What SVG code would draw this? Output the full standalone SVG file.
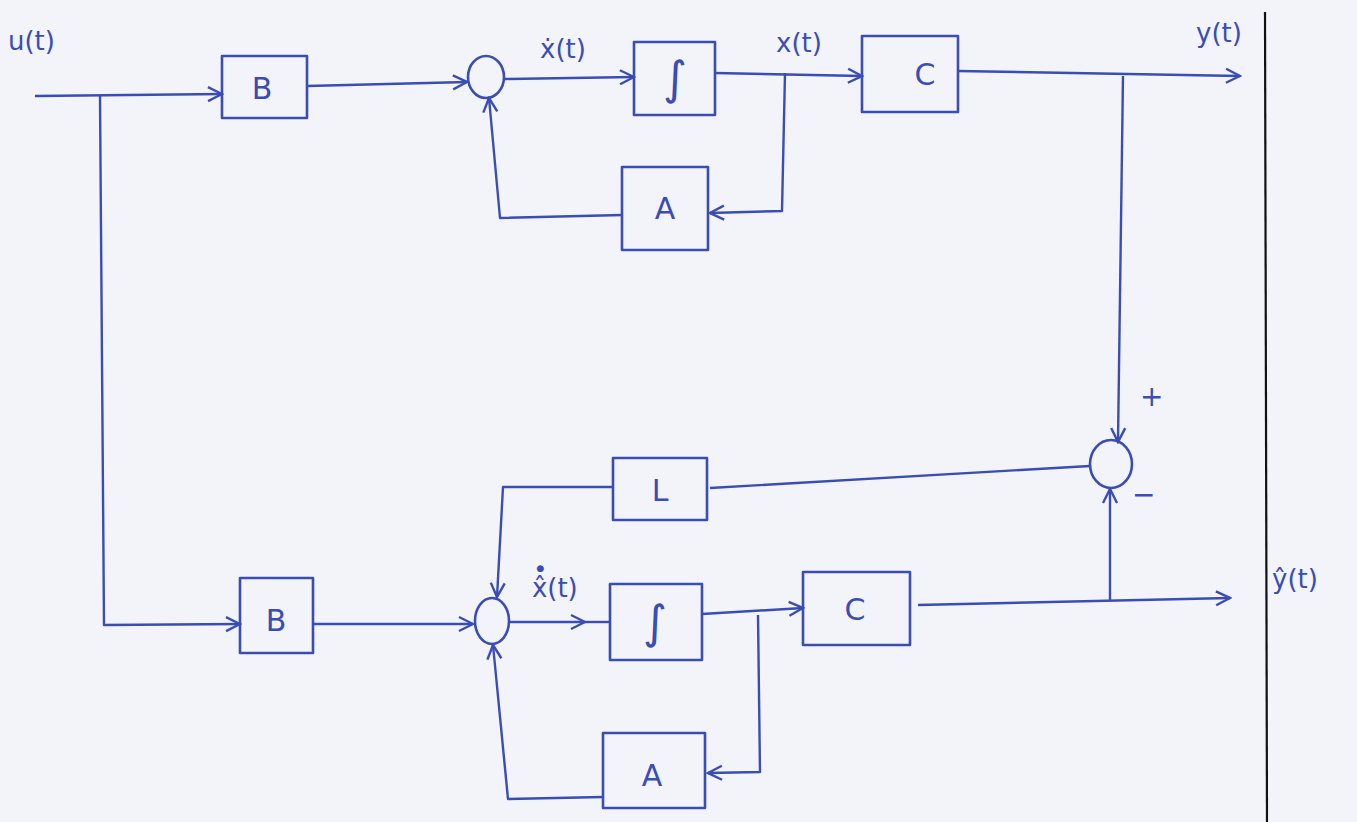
<svg xmlns="http://www.w3.org/2000/svg" width="1357" height="822" viewBox="0 0 1357 822">
<style>
.bg{fill:#f3f3fa}
.box{fill:none;stroke:#3a4db3;stroke-width:2.6;stroke-linejoin:round}
.sum{fill:none;stroke:#3a4db3;stroke-width:2.6}
.w{fill:none;stroke:#3a4db3;stroke-width:2.4;stroke-linejoin:round}
.t{font-family:"DejaVu Sans","Liberation Sans",sans-serif;fill:#3a4db3}
.lbl{font-size:26px}
.nl{font-size:30px;text-anchor:middle;dominant-baseline:central}
.int{font-size:46px}
</style>
<defs>
<marker id="arr" markerUnits="userSpaceOnUse" markerWidth="20" markerHeight="20" viewBox="0 0 20 20" refX="18" refY="10" orient="auto">
<path d="M4,3 L18,10 L4,17" fill="none" stroke="#3a4db3" stroke-width="2.4"/>
</marker>
</defs>
<rect class="bg" x="0" y="0" width="1357" height="822"/>
<line x1="1265" y1="12" x2="1267" y2="822" stroke="#111" stroke-width="2.2"/>

<g id="connectors">
<path class="w" d="M35,96 L222,94" marker-end="url(#arr)"/>
<path class="w" d="M100,96 L104,625 L240,624" marker-end="url(#arr)"/>
<path class="w" d="M307,86 L467,82" marker-end="url(#arr)"/>
<path class="w" d="M505,79 L634,77" marker-end="url(#arr)"/>
<path class="w" d="M715,73 L862,76" marker-end="url(#arr)"/>
<path class="w" d="M785,73 L782,211 L710,213" marker-end="url(#arr)"/>
<path class="w" d="M622,215 L500,218 L489,98" marker-end="url(#arr)"/>
<path class="w" d="M958,71 L1240,76" marker-end="url(#arr)"/>
<path class="w" d="M1123,76 L1118,442" marker-end="url(#arr)"/>
<path class="w" d="M1090,466 L710,488"/>
<path class="w" d="M613,487 L503,487 L497,597" marker-end="url(#arr)"/>
<path class="w" d="M313,624 L473,624" marker-end="url(#arr)"/>
<path class="w" d="M510,622 L585,622" marker-end="url(#arr)"/>
<path class="w" d="M585,622 L610,622"/>
<path class="w" d="M702,614 L803,608" marker-end="url(#arr)"/>
<path class="w" d="M758,615 L760,772 L708,773" marker-end="url(#arr)"/>
<path class="w" d="M603,797 L508,799 L493,645" marker-end="url(#arr)"/>
<path class="w" d="M918,605 L1230,598" marker-end="url(#arr)"/>
<path class="w" d="M1110,600 L1110,489" marker-end="url(#arr)"/>
</g>

<g id="labels">
<text class="t lbl" x="8" y="50">u(t)</text>
<text class="t lbl" x="540" y="58">ẋ(t)</text>
<text class="t lbl" x="776" y="52">x(t)</text>
<text class="t lbl" x="1196" y="42">y(t)</text>
<text class="t lbl" x="532" y="597">x̂<tspan font-size="9" dx="-11" dy="-26">●</tspan><tspan dx="3" dy="26">(t)</tspan></text>
<text class="t lbl" x="1272" y="588">ŷ(t)</text>
<text class="t" font-size="28" x="1140" y="406">+</text>
<text class="t" font-size="28" x="1132" y="504">−</text>
</g>

<g id="B1"><rect class="box" x="222" y="56" width="85" height="62"/><text class="t nl" x="262" y="88">B</text></g>
<g id="sum1"><ellipse class="sum" cx="486" cy="77" rx="18" ry="21"/></g>
<g id="int1"><rect class="box" x="634" y="42" width="81" height="73"/><text class="t nl int" x="675" y="78">∫</text></g>
<g id="A1"><rect class="box" x="622" y="167" width="86" height="83"/><text class="t nl" x="665" y="208">A</text></g>
<g id="C1"><rect class="box" x="862" y="36" width="96" height="76"/><text class="t nl" x="925" y="74">C</text></g>
<g id="sum2"><ellipse class="sum" cx="1111" cy="464" rx="21" ry="24"/></g>
<g id="L"><rect class="box" x="613" y="458" width="94" height="62"/><text class="t nl" x="660" y="490">L</text></g>
<g id="B2"><rect class="box" x="240" y="578" width="73" height="75"/><text class="t nl" x="276" y="620">B</text></g>
<g id="sum3"><ellipse class="sum" cx="492" cy="621" rx="17" ry="23"/></g>
<g id="int2"><rect class="box" x="610" y="584" width="92" height="76"/><text class="t nl int" x="655" y="622">∫</text></g>
<g id="C2"><rect class="box" x="803" y="572" width="107" height="73"/><text class="t nl" x="855" y="609">C</text></g>
<g id="A2"><rect class="box" x="603" y="733" width="102" height="75"/><text class="t nl" x="652" y="775">A</text></g>
</svg>
